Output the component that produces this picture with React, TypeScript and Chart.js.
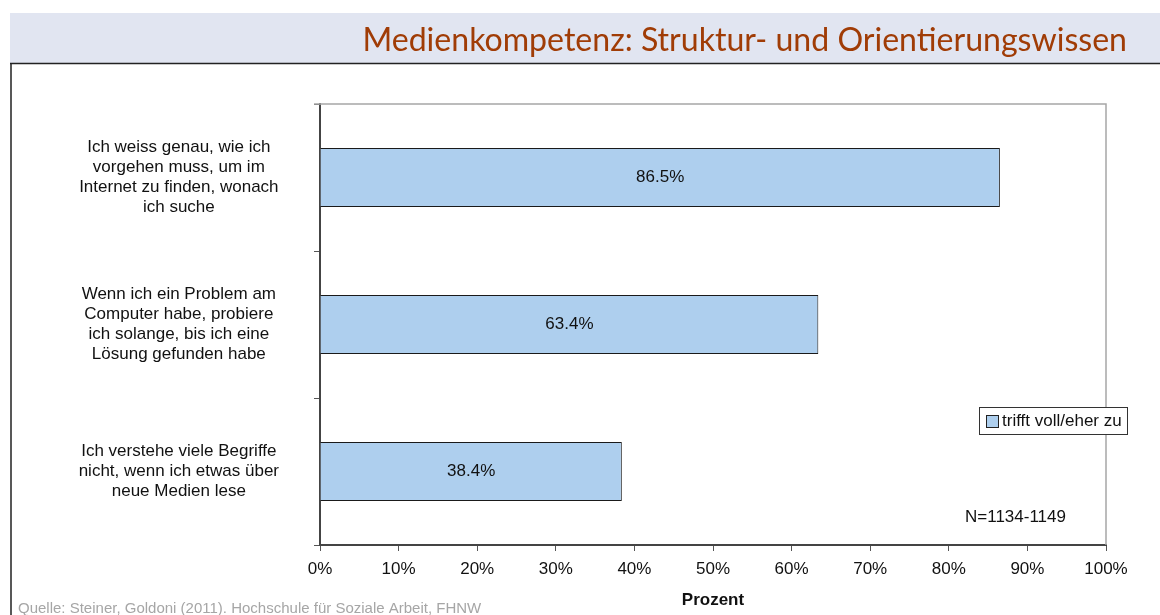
import React, { useEffect, useRef } from "react";
import { Chart, registerables } from "chart.js";

Chart.register(...registerables);

const chartTitle = "Medienkompetenz: Struktur- und Orientierungswissen";
const categories: string[][] = [
  ["Ich weiss genau, wie ich", "vorgehen muss, um im", "Internet zu finden, wonach", "ich suche"],
  ["Wenn ich ein Problem am", "Computer habe, probiere", "ich solange, bis ich eine", "Lösung gefunden habe"],
  ["Ich verstehe viele Begriffe", "nicht, wenn ich etwas über", "neue Medien lese"],
];
const seriesLabel = "trifft voll/eher zu";
const seriesValues = [86.5, 63.4, 38.4];
const xTickValues = [0, 10, 20, 30, 40, 50, 60, 70, 80, 90, 100];
const axisTitle = "Prozent";
const sampleNote = "N=1134-1149";
const sourceNote = "Quelle: Steiner, Goldoni (2011). Hochschule für Soziale Arbeit, FHNW";

const FONT = "'Liberation Sans', Arial, sans-serif";
const BAR_COLOR = "#aecfee";

const decorPlugin = {
  id: "decor",
  beforeDraw(chart: any) {
    const ctx = chart.ctx;
    ctx.save();
    ctx.fillStyle = "#ffffff";
    ctx.fillRect(0, 0, chart.width, chart.height);
    // title bar
    ctx.fillStyle = "#e1e5f1";
    ctx.fillRect(10, 13, 1150, 50);
    ctx.strokeStyle = "#222222";
    ctx.lineWidth = 1.5;
    ctx.beginPath();
    ctx.moveTo(10, 63.5);
    ctx.lineTo(1160, 63.5);
    ctx.moveTo(11, 63);
    ctx.lineTo(11, 615);
    ctx.stroke();
    // title text fitted to width
    ctx.font = "32px Lato, 'Open Sans', sans-serif";
    const w = ctx.measureText(chartTitle).width;
    const size = (32 * 765) / w;
    ctx.font = `${size.toFixed(2)}px Lato, 'Open Sans', sans-serif`;
    ctx.fillStyle = "#a03c06";
    ctx.textAlign = "right";
    ctx.textBaseline = "alphabetic";
    ctx.fillText(chartTitle, 1127, 51);
    // source
    ctx.font = `15px ${FONT}`;
    ctx.fillStyle = "#a6a6a6";
    ctx.textAlign = "left";
    ctx.fillText(sourceNote, 18, 613);
    // N note
    ctx.font = `17px ${FONT}`;
    ctx.fillStyle = "#111111";
    ctx.textBaseline = "middle";
    ctx.fillText(sampleNote, 965, 517);
    ctx.restore();
  },
  beforeDatasetsDraw(chart: any) {
    const ctx = chart.ctx;
    const a = chart.chartArea;
    ctx.save();
    ctx.strokeStyle = "#a6a6a6";
    ctx.lineWidth = 1.5;
    ctx.beginPath();
    ctx.moveTo(a.left - 6, a.top);
    ctx.lineTo(a.right, a.top);
    ctx.lineTo(a.right, a.bottom);
    ctx.stroke();
    ctx.restore();
  },
  afterDatasetsDraw(chart: any) {
    const ctx = chart.ctx;
    const meta = chart.getDatasetMeta(0);
    const data = chart.data.datasets[0].data;
    ctx.save();
    ctx.font = `17px ${FONT}`;
    ctx.fillStyle = "#111111";
    ctx.textAlign = "center";
    ctx.textBaseline = "middle";
    meta.data.forEach((bar: any, i: number) => {
      const v = data[i] as number;
      ctx.fillText(v.toFixed(1) + "%", (bar.x + bar.base) / 2, bar.y);
    });
    ctx.restore();
  },
  afterDraw(chart: any) {
    const ctx = chart.ctx;
    const ds = chart.data.datasets[0];
    ctx.save();
    // legend box
    ctx.fillStyle = "#ffffff";
    ctx.fillRect(979, 407, 148, 27);
    ctx.strokeStyle = "#333333";
    ctx.lineWidth = 1;
    ctx.strokeRect(979.5, 407.5, 148, 27);
    ctx.fillStyle = ds.backgroundColor;
    ctx.fillRect(986.5, 415.5, 12, 12);
    ctx.strokeStyle = "#222222";
    ctx.strokeRect(986.5, 415.5, 12, 12);
    ctx.font = `17px ${FONT}`;
    ctx.fillStyle = "#111111";
    ctx.textAlign = "left";
    ctx.textBaseline = "middle";
    ctx.fillText(ds.label, 1002, 421.5);
    ctx.restore();
  },
};

export default function App() {
  const ref = useRef<HTMLCanvasElement | null>(null);
  useEffect(() => {
    if (!ref.current) return;
    const chart = new Chart(ref.current, {
      type: "bar",
      data: {
        labels: categories,
        datasets: [
          {
            label: seriesLabel,
            data: seriesValues,
            backgroundColor: BAR_COLOR,
            borderColor: "#1a1a1a",
            borderWidth: 1,
            barPercentage: 0.4,
            categoryPercentage: 1.0,
          },
        ],
      },
      options: {
        indexAxis: "y",
        responsive: false,
        maintainAspectRatio: false,
        animation: false,
        layout: { padding: { left: 20, right: 54, top: 104, bottom: 0 } },
        plugins: {
          legend: { display: false },
          tooltip: { enabled: false },
          title: { display: false },
        },
        scales: {
          x: {
            type: "linear",
            min: 0,
            max: 100,
            afterBuildTicks: (scale: any) => {
              scale.ticks = xTickValues.map((v) => ({ value: v }));
            },
            ticks: {
              callback: (v: any) => v + "%",
              font: { family: FONT, size: 17, lineHeight: 1.2 },
              color: "#111111",
              padding: 8,
              maxRotation: 0,
              autoSkip: false,
            },
            grid: { drawOnChartArea: false, tickLength: 6, color: "#555555", lineWidth: 1 },
            border: { color: "#444444", width: 2 },
            title: {
              display: true,
              text: axisTitle,
              font: { family: FONT, size: 17, weight: "bold", lineHeight: 1.2 },
              color: "#111111",
              padding: { top: 0, bottom: 4 },
            },
            afterFit: (scale: any) => {
              scale.height = 70;
            },
          },
          y: {
            type: "category",
            grid: { offset: true, drawOnChartArea: false, tickLength: 6, color: "#555555", lineWidth: 1 },
            border: { color: "#444444", width: 2 },
            ticks: {
              font: { family: FONT, size: 17, lineHeight: 1.18 },
              color: "#111111",
              crossAlign: "center",
              padding: 35,
              autoSkip: false,
            },
            afterFit: (scale: any) => {
              scale.width = 300;
              scale.paddingTop = 0;
              scale.paddingBottom = 0;
            },
          },
        },
      } as any,
      plugins: [decorPlugin],
    });
    return () => chart.destroy();
  }, []);
  return (
    <div style={{ position: "absolute", left: 0, top: 0, width: 1160, height: 615 }}>
      <canvas ref={ref} width={1160} height={615} style={{ display: "block", width: 1160, height: 615 }} />
    </div>
  );
}
